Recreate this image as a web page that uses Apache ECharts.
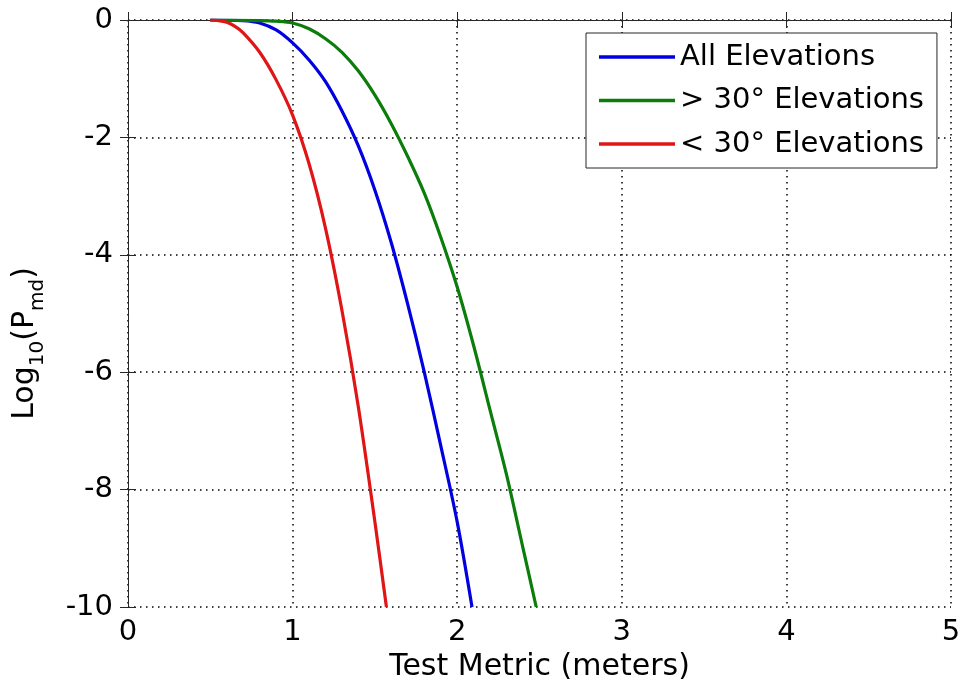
<!DOCTYPE html>
<html>
<head>
<meta charset="utf-8">
<script src="https://cdn.jsdelivr.net/npm/echarts@6/dist/echarts.min.js"></script>
<style>html,body{margin:0;padding:0;background:#fff;}#c{width:962px;height:692px;}</style>
</head>
<body>
<div id="c"></div>
<script>
// Series names
const seriesNames = ['All Elevations', '> 30\u00b0 Elevations', '< 30\u00b0 Elevations'];
// Test metric (meters) values and log10(Pmd) values
const allX   = [0.5, 0.7, 0.8, 0.9, 1.0, 1.1, 1.2, 1.3, 1.4, 1.5, 1.6, 1.7, 1.8, 1.9, 2.0, 2.09];
const allY   = [0, -0.01, -0.05, -0.17, -0.39, -0.68, -1.05, -1.55, -2.15, -2.9, -3.8, -4.85, -6.0, -7.25, -8.55, -10];
const highX  = [0.5, 0.8, 0.9, 1.0, 1.1, 1.2, 1.3, 1.4, 1.5, 1.6, 1.7, 1.8, 1.9, 2.0, 2.1, 2.2, 2.3, 2.4, 2.48];
const highY  = [0, -0.01, -0.02, -0.05, -0.15, -0.32, -0.55, -0.87, -1.28, -1.77, -2.33, -2.95, -3.7, -4.55, -5.55, -6.65, -7.75, -9.0, -10];
const lowX   = [0.5, 0.55, 0.6, 0.65, 0.7, 0.8, 0.9, 1.0, 1.1, 1.2, 1.3, 1.4, 1.5, 1.57];
const lowY   = [0, -0.01, -0.04, -0.11, -0.22, -0.55, -1.02, -1.62, -2.45, -3.55, -4.95, -6.6, -8.55, -10];
const colors = ['#0000e0', '#0a7d0a', '#e01515'];

function pairs(xs, ys) { return xs.map((x, i) => [x, ys[i]]); }

const FONT = 'DejaVu Sans';
const chart = echarts.init(document.getElementById('c'), null, {renderer: 'canvas'});
const axisLineStyle = {show: true, lineStyle: {color: '#262626', width: 1}};
const tickStyle = {show: true, inside: true, length: 8, lineStyle: {color: '#262626', width: 1}};
const gridLine = {show: true, lineStyle: {color: '#000', width: 1.5, type: [1.5, 4.5]}};

chart.setOption({
  animation: false,
  backgroundColor: '#fff',
  grid: {left: 128, right: 11, top: 20, bottom: 85, containLabel: false, outerBoundsMode: 'none'},
  legend: {
    data: seriesNames,
    orient: 'vertical',
    left: 586, top: 33,
    padding: [9, 13, 9, 13],
    itemGap: 13.5,
    icon: 'rect',
    itemWidth: 76, itemHeight: 3.5,
    backgroundColor: '#fff',
    borderColor: '#262626', borderWidth: 1,
    textStyle: {fontFamily: FONT, fontSize: 29, color: '#000', lineHeight: 30},
    selectedMode: false
  },
  xAxis: [{
    type: 'value', min: 0, max: 5, interval: 1,
    name: 'Test Metric (meters)', nameLocation: 'middle', nameGap: 43,
    nameTextStyle: {fontFamily: FONT, fontSize: 30, color: '#000'},
    axisLine: axisLineStyle, axisTick: tickStyle,
    axisLabel: {fontFamily: FONT, fontSize: 29, color: '#000', margin: 11},
    splitLine: gridLine
  }, {
    type: 'value', min: 0, max: 5, interval: 1, position: 'top',
    axisLine: axisLineStyle, axisTick: tickStyle,
    axisLabel: {show: false}, splitLine: {show: false}
  }],
  yAxis: [{
    type: 'value', min: -10, max: 0, interval: 2,
    name: '{a|Log}{s|10}{a|(P}{s|md}{a|)}', nameLocation: 'middle', nameGap: 80, nameRotate: 90,
    nameTextStyle: {
      fontFamily: FONT, fontSize: 30, color: '#000', padding: [0, 60, 0, 0],
      rich: {
        a: {fontFamily: FONT, fontSize: 30, color: '#000', lineHeight: 30, verticalAlign: 'top'},
        s: {fontFamily: FONT, fontSize: 20, color: '#000', lineHeight: 38, verticalAlign: 'bottom'}
      }
    },
    axisLine: axisLineStyle, axisTick: tickStyle,
    axisLabel: {fontFamily: FONT, fontSize: 29, color: '#000', margin: 15},
    splitLine: gridLine
  }, {
    type: 'value', min: -10, max: 0, interval: 2, position: 'right',
    axisLine: axisLineStyle, axisTick: tickStyle,
    axisLabel: {show: false}, splitLine: {show: false}
  }],
  series: [
    {name: seriesNames[0], type: 'line', data: pairs(allX, allY), symbol: 'none', smooth: 0.3,
     lineStyle: {color: colors[0], width: 3.2}, itemStyle: {color: colors[0]}, z: 3},
    {name: seriesNames[1], type: 'line', data: pairs(highX, highY), symbol: 'none', smooth: 0.3,
     lineStyle: {color: colors[1], width: 3.2}, itemStyle: {color: colors[1]}, z: 3},
    {name: seriesNames[2], type: 'line', data: pairs(lowX, lowY), symbol: 'none', smooth: 0.3,
     lineStyle: {color: colors[2], width: 3.2}, itemStyle: {color: colors[2]}, z: 3}
  ]
});
</script>
</body>
</html>
